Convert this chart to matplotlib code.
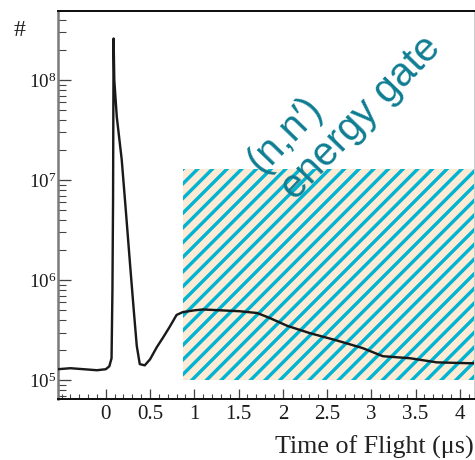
import numpy as np
import matplotlib
matplotlib.use("Agg")
import matplotlib.pyplot as plt
from matplotlib.patches import Rectangle
from matplotlib.ticker import MultipleLocator, LogLocator, FormatStrFormatter

# ---- data ----
tof_us = [-0.54, -0.40, -0.25, -0.10, 0.00, 0.04, 0.065, 0.075, 0.082, 0.088,
          0.096, 0.124, 0.18, 0.226, 0.27, 0.316, 0.35, 0.384, 0.44, 0.50,
          0.576, 0.65, 0.72, 0.80, 0.87, 1.00, 1.10, 1.30, 1.51, 1.71,
          1.85, 2.05, 2.31, 2.61, 2.90, 3.13, 3.44, 3.74, 4.11, 4.16]
counts = [1.29e5, 1.32e5, 1.29e5, 1.26e5, 1.29e5, 1.38e5, 1.66e5, 7.9e5, 6.3e6, 2.6e8,
          1.0e8, 4.3e7, 1.6e7, 5.0e6, 1.6e6, 5.0e5, 2.2e5, 1.45e5, 1.41e5, 1.62e5,
          2.14e5, 2.7e5, 3.4e5, 4.5e5, 4.8e5, 5.0e5, 5.1e5, 5.0e5, 4.9e5, 4.7e5,
          4.2e5, 3.5e5, 2.95e5, 2.5e5, 2.1e5, 1.74e5, 1.66e5, 1.51e5, 1.48e5, 1.48e5]
gate_tof = [0.87, 4.40]
gate_counts = [1.0e5, 1.3e7]
x_ticks = [0, 0.5, 1, 1.5, 2, 2.5, 3, 3.5, 4]
x_limits = [-0.54, 4.16]
y_limits = [6.5e4, 4.9e8]
gate_text = ["(n,n\u2032)", "energy gate"]

# ---- style ----
DPI = 88
PT = 72.0 / DPI
plt.rcParams["mathtext.fontset"] = "custom"
plt.rcParams["mathtext.rm"] = "Liberation Serif"
plt.rcParams["mathtext.it"] = "Liberation Serif:italic"
plt.rcParams["hatch.linewidth"] = 3.4 * PT

serif = ["Liberation Serif", "DejaVu Serif"]
sans = ["Liberation Sans", "DejaVu Sans"]
teal = "#0f7d92"
cyan = "#00b4d2"
peach = "#fdebd6"

fig = plt.figure(figsize=(475 / DPI, 460 / DPI), dpi=DPI)
ax = fig.add_axes([58 / 475, 1 - 399 / 460, (474 - 58) / 475, (399 - 11) / 460])

ax.add_patch(Rectangle((gate_tof[0], gate_counts[0]), gate_tof[1] - gate_tof[0],
                       gate_counts[1] - gate_counts[0], facecolor=peach,
                       edgecolor=cyan, hatch="//", linewidth=0, zorder=1))
ax.plot(tof_us, counts, color="#1a1a1a", lw=2.4 * PT, zorder=3,
        solid_joinstyle="round")

ax.set_yscale("log")
ax.set_xlim(*x_limits)
ax.set_ylim(*y_limits)

ax.set_xticks(x_ticks)
ax.xaxis.set_major_formatter(FormatStrFormatter("%g"))
ax.xaxis.set_minor_locator(MultipleLocator(0.1))
ax.yaxis.set_major_locator(LogLocator(base=10, numticks=10))
ax.yaxis.set_minor_locator(LogLocator(base=10, subs=np.arange(2, 10), numticks=50))

ax.tick_params(which="both", direction="in", top=False, right=False, colors="#444444")
ax.tick_params(axis="x", which="major", length=10 * PT, width=1.3 * PT, pad=6 * PT,
               labelsize=21 * PT, labelcolor="#1a1a1a")
ax.tick_params(axis="x", which="minor", length=5 * PT, width=1.1 * PT)
ax.tick_params(axis="y", which="major", length=13 * PT, width=1.3 * PT, pad=1.5 * PT,
               labelsize=19 * PT, labelcolor="#1a1a1a")
ax.tick_params(axis="y", which="minor", length=8 * PT, width=1.1 * PT)
for lab in ax.get_xticklabels() + ax.get_yticklabels():
    lab.set_family(serif)

ax.spines["left"].set_color("#7a7a7a")
ax.spines["left"].set_linewidth(2.5 * PT)
ax.spines["bottom"].set_color("#111111")
ax.spines["bottom"].set_linewidth(2.0 * PT)
ax.spines["top"].set_color("#111111")
ax.spines["top"].set_linewidth(2.0 * PT)
ax.spines["right"].set_color("#cccccc")
ax.spines["right"].set_linewidth(1.0 * PT)

ax.set_xlabel("Time of Flight (\u03bcs)", loc="right", fontsize=26 * PT,
              family=serif, color="#222222", labelpad=12 * PT)
fig.text(20 / 475, 1 - 31 / 460, "#", fontsize=24 * PT, family=serif,
         ha="center", va="center", color="#222222")

fig.text(285 / 475, 1 - 135 / 460, gate_text[0], fontsize=40 * PT, family=sans,
         color=teal, rotation=46, rotation_mode="anchor", ha="center", va="center")
fig.text(361 / 475, 1 - 118 / 460, gate_text[1], fontsize=40 * PT, family=sans,
         color=teal, rotation=46, rotation_mode="anchor", ha="center", va="center")

fig.savefig("out.png", dpi=DPI)
